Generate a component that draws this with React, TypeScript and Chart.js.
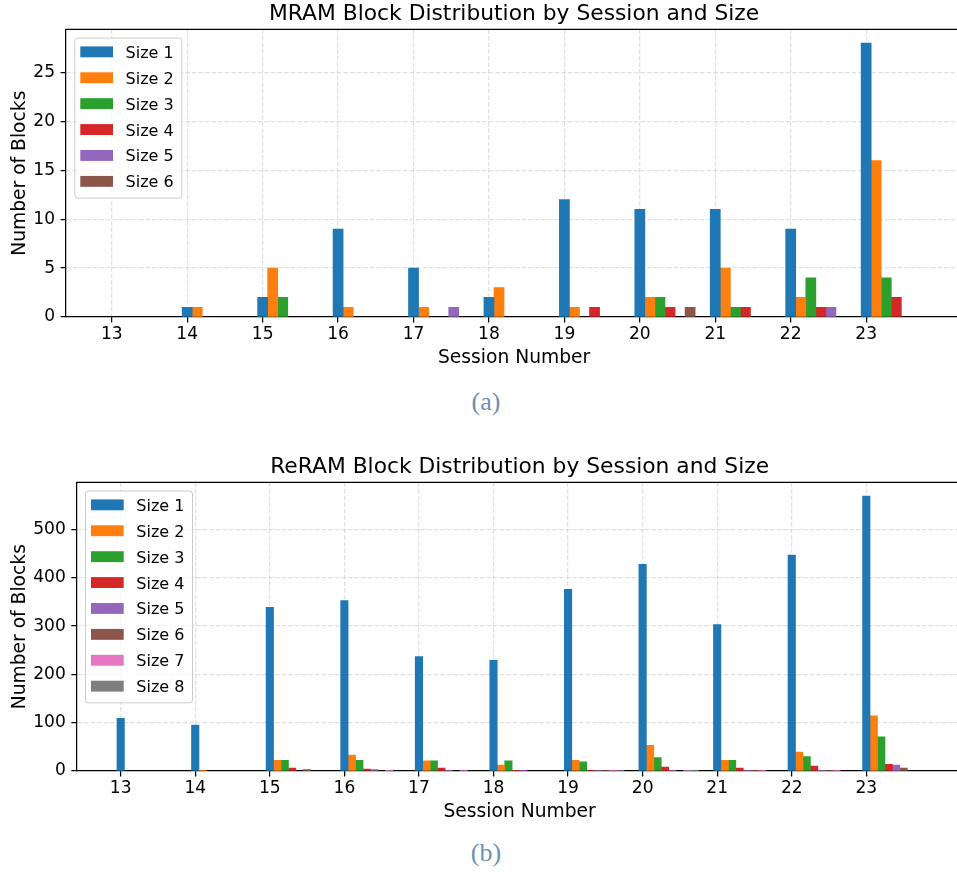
import React, { useEffect, useRef } from 'react';
import { Chart, registerables } from 'chart.js';

Chart.register(...registerables);

// ---------- data ----------
const sessions = [13, 14, 15, 16, 17, 18, 19, 20, 21, 22, 23];

const mramSize1 = [0, 1, 2, 9, 5, 2, 12, 11, 11, 9, 28];
const mramSize2 = [0, 1, 5, 1, 1, 3, 1, 2, 5, 2, 16];
const mramSize3 = [0, 0, 2, 0, 0, 0, 0, 2, 1, 4, 4];
const mramSize4 = [0, 0, 0, 0, 0, 0, 1, 1, 1, 1, 2];
const mramSize5 = [0, 0, 0, 0, 1, 0, 0, 0, 0, 1, 0];
const mramSize6 = [0, 0, 0, 0, 0, 0, 0, 1, 0, 0, 0];

const reramSize1 = [109, 95, 339, 353, 237, 229, 376, 428, 303, 447, 569];
const reramSize2 = [0, 1, 22, 33, 21, 12, 22, 53, 22, 39, 114];
const reramSize3 = [0, 0, 22, 22, 21, 21, 19, 28, 22, 30, 71];
const reramSize4 = [0, 0, 6, 4, 6, 1, 1, 8, 6, 10, 14];
const reramSize5 = [0, 0, 0, 3, 1, 1, 1, 1, 1, 1, 12];
const reramSize6 = [0, 0, 3, 0, 0, 0, 1, 0, 1, 1, 6];
const reramSize7 = [0, 0, 0, 1, 1, 0, 1, 1, 1, 1, 0];
const reramSize8 = [0, 0, 0, 0, 0, 0, 1, 1, 0, 0, 0];

const sizeLabels = ['Size 1', 'Size 2', 'Size 3', 'Size 4', 'Size 5', 'Size 6', 'Size 7', 'Size 8'];
const sizeColors = ['#1f77b4', '#ff7f0e', '#2ca02c', '#d62728', '#9467bd', '#8c564b', '#e377c2', '#7f7f7f'];

const mramYTicks = [0, 5, 10, 15, 20, 25];
const reramYTicks = [0, 100, 200, 300, 400, 500];

const mramSeries = [mramSize1, mramSize2, mramSize3, mramSize4, mramSize5, mramSize6];
const reramSeries = [reramSize1, reramSize2, reramSize3, reramSize4, reramSize5, reramSize6, reramSize7, reramSize8];

// ---------- styling ----------
const FAMILY = '"DejaVu Sans", sans-serif';
const GRID = 'rgba(176,176,176,0.38)';
const LW = 1.24;

const mplPlugin = {
  id: 'mplDecor',
  afterDraw(chart: any) {
    const { ctx, chartArea: a } = chart;
    ctx.save();
    // top & right spines
    ctx.strokeStyle = '#000';
    ctx.lineWidth = LW;
    ctx.beginPath();
    ctx.moveTo(a.left, a.top);
    ctx.lineTo(a.right, a.top);
    ctx.lineTo(a.right, a.bottom);
    ctx.stroke();

    // legend box (matplotlib style)
    const ds = chart.data.datasets;
    const n = ds.length;
    const left = a.left + 8.8;
    const top = a.top + 8.6;
    const w = 107;
    const h = 12.4 + n * 18.1 + (n - 1) * 7.8;
    const r = 3;
    ctx.beginPath();
    ctx.moveTo(left + r, top);
    ctx.lineTo(left + w - r, top);
    ctx.arcTo(left + w, top, left + w, top + r, r);
    ctx.lineTo(left + w, top + h - r);
    ctx.arcTo(left + w, top + h, left + w - r, top + h, r);
    ctx.lineTo(left + r, top + h);
    ctx.arcTo(left, top + h, left, top + h - r, r);
    ctx.lineTo(left, top + r);
    ctx.arcTo(left, top, left + r, top, r);
    ctx.closePath();
    ctx.fillStyle = 'rgba(255,255,255,0.8)';
    ctx.fill();
    ctx.strokeStyle = '#cccccc';
    ctx.lineWidth = 1;
    ctx.stroke();

    ctx.font = `16px ${FAMILY}`;
    ctx.textBaseline = 'alphabetic';
    ctx.textAlign = 'left';
    ds.forEach((d: any, i: number) => {
      const cy = top + 13.8 + i * 25.9;
      ctx.fillStyle = d.backgroundColor;
      ctx.fillRect(left + 5.5, cy - 5.45, 32.7, 10.9);
      ctx.fillStyle = '#000';
      ctx.fillText(d.label, left + 50.8, cy + 6);
    });
    ctx.restore();
  },
};

function makeConfig(title: string, series: number[][], yTicks: number[], areaLeft: number, canvasW: number, areaRight: number) {
  const n = series.length;
  const w = 0.8 / n;
  const datasets = series.map((vals, i) => ({
    label: sizeLabels[i],
    data: sessions.map((s, j) => ({ x: s + i * w, y: vals[j] })),
    backgroundColor: sizeColors[i],
    borderWidth: 0,
    inflateAmount: (c: any) => (c.raw && c.raw.y > 0 ? 0.33 : 0),
    grouped: false,
    categoryPercentage: 1,
    barPercentage: 1,
  }));
  const ymax = Math.max(...series.flat()) * 1.05;
  const lo = sessions[0] - w / 2;
  const hi = sessions[sessions.length - 1] + (n - 1) * w + w / 2;
  const m = (hi - lo) * 0.05;

  const tickFont = { family: FAMILY, size: 17.1, lineHeight: 1 };
  const labelFont = { family: FAMILY, size: 18.7 };

  return {
    type: 'bar',
    data: { datasets },
    plugins: [mplPlugin],
    options: {
      animation: false,
      responsive: false,
      events: [],
      layout: { padding: { left: 0, top: 0, right: canvasW - areaRight, bottom: 0 } },
      plugins: {
        legend: { display: false },
        tooltip: { enabled: false },
        title: {
          display: true,
          text: title,
          fullSize: false,
          color: '#000',
          font: { family: FAMILY, size: 21.8, weight: 'normal' },
          padding: { top: 1.1, bottom: 2.2 },
        },
      },
      scales: {
        x: {
          type: 'linear',
          offset: false,
          min: lo - m,
          max: hi + m,
          z: 1,
          afterBuildTicks: (ax: any) => {
            ax.ticks = sessions.map((v) => ({ value: v }));
          },
          afterFit: (ax: any) => {
            ax.height = 60;
          },
          ticks: {
            callback: (v: any) => String(v),
            font: tickFont,
            color: '#000',
            padding: 3.95,
            maxRotation: 0,
            autoSkip: false,
          },
          grid: {
            offset: false,
            color: GRID,
            lineWidth: LW,
            tickLength: 5.4,
            tickColor: '#000',
            tickWidth: LW,
            tickBorderDash: [],
          },
          border: { display: true, color: '#000', width: LW, dash: [4.6, 2] },
          title: { display: true, text: 'Session Number', color: '#000', font: labelFont, padding: { top: 0, bottom: 7.3 } },
        },
        y: {
          type: 'linear',
          min: 0,
          max: ymax,
          z: 1,
          afterBuildTicks: (ax: any) => {
            ax.ticks = yTicks.map((v) => ({ value: v }));
          },
          afterFit: (ax: any) => {
            ax.width = areaLeft;
          },
          ticks: {
            callback: (v: any) => String(v),
            font: tickFont,
            color: '#000',
            padding: 5.5,
          },
          grid: {
            color: (c: any) => (c.tick && c.tick.value === 0 ? 'rgba(0,0,0,0)' : GRID),
            lineWidth: LW,
            tickLength: 5.4,
            tickColor: '#000',
            tickWidth: LW,
            tickBorderDash: [],
          },
          border: { display: true, color: '#000', width: LW, dash: [4.6, 2] },
          title: { display: true, text: 'Number of Blocks', color: '#000', font: labelFont, padding: { top: 9.1, bottom: 0 } },
        },
      },
    },
  };
}

function BarChart(props: { config: any; top: number; width: number; height: number }) {
  const ref = useRef<HTMLCanvasElement>(null);
  useEffect(() => {
    const chart = new Chart(ref.current as HTMLCanvasElement, props.config);
    return () => chart.destroy();
  }, []);
  return (
    <canvas
      ref={ref}
      width={props.width}
      height={props.height}
      style={{ position: 'absolute', left: 0, top: props.top, width: props.width, height: props.height }}
    />
  );
}

const captionStyle: any = {
  position: 'absolute',
  left: 0,
  width: 972,
  textAlign: 'center',
  fontFamily: '"Liberation Serif", serif',
  fontSize: 26,
  lineHeight: '30px',
  color: '#6e8fb0',
};

export default function App() {
  const topCfg = makeConfig('MRAM Block Distribution by Session and Size', mramSeries, mramYTicks, 66, 990, 962.2);
  const botCfg = makeConfig('ReRAM Block Distribution by Session and Size', reramSeries, reramYTicks, 76.7, 990, 962.5);
  return (
    <div style={{ position: 'absolute', left: 0, top: 0, width: 957, height: 875, overflow: 'hidden', background: '#fff' }}>
      <BarChart config={topCfg} top={0} width={990} height={377} />
      <div style={{ ...captionStyle, top: 387 }}>(a)</div>
      <BarChart config={botCfg} top={452.8} width={990} height={378} />
      <div style={{ ...captionStyle, top: 838 }}>(b)</div>
    </div>
  );
}
